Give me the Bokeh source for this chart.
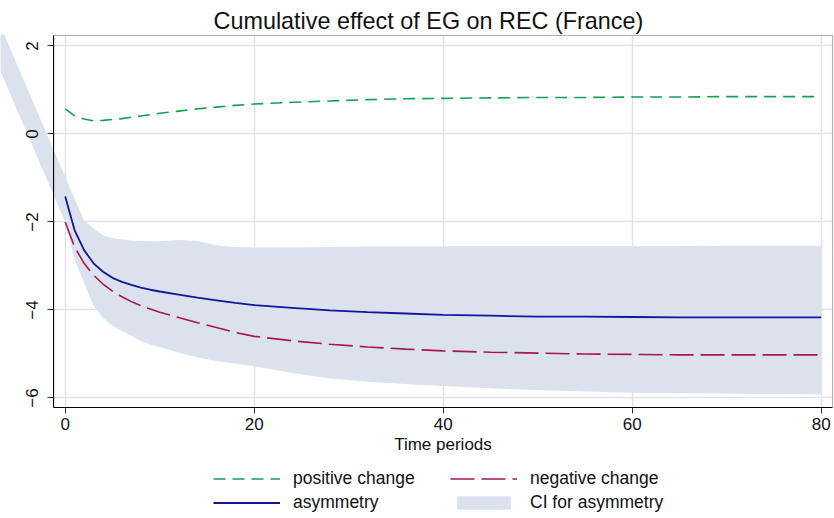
from bokeh.plotting import figure
from bokeh.models import Range1d, BoxAnnotation, Legend, LegendItem, FixedTicker
from bokeh.embed import file_html
from bokeh.resources import INLINE

# ---- data ----
periods = [0, 1, 2, 3, 4, 5, 6, 7, 8, 9, 10, 12, 14, 16, 18, 20, 24, 28, 32, 36,
           40, 45, 50, 55, 60, 65, 70, 75, 80]
positive_change = [0.57, 0.41, 0.34, 0.30, 0.31, 0.33, 0.35, 0.38, 0.41, 0.44, 0.47,
                   0.52, 0.57, 0.61, 0.65, 0.68, 0.72, 0.75, 0.78, 0.80,
                   0.81, 0.82, 0.83, 0.83, 0.84, 0.84, 0.85, 0.85, 0.85]
negative_change = [-2.00, -2.57, -2.94, -3.21, -3.41, -3.57, -3.70, -3.81, -3.90, -3.98, -4.05,
                   -4.17, -4.29, -4.40, -4.51, -4.60, -4.70, -4.78, -4.84, -4.89,
                   -4.93, -4.96, -4.98, -5.00, -5.01, -5.02, -5.02, -5.02, -5.02]
asymmetry = [-1.42, -2.19, -2.64, -2.94, -3.13, -3.27, -3.36, -3.43, -3.49, -3.54, -3.58,
             -3.65, -3.72, -3.78, -3.84, -3.89, -3.95, -4.01, -4.05, -4.08,
             -4.11, -4.13, -4.15, -4.15, -4.16, -4.17, -4.17, -4.17, -4.17]
ci_periods = [-8, 0, 1, 2, 3, 4, 5, 6, 7, 8, 9, 10, 12, 14, 16, 18, 20, 24, 28, 32, 36,
              40, 45, 50, 55, 60, 65, 70, 75, 80]
ci_upper = [3.03, -0.97, -1.47, -1.96, -2.15, -2.30, -2.37, -2.40, -2.42, -2.43, -2.44, -2.44,
            -2.41, -2.43, -2.53, -2.57, -2.58, -2.58, -2.57, -2.56, -2.56,
            -2.55, -2.55, -2.55, -2.55, -2.55, -2.55, -2.54, -2.54, -2.54]
ci_lower = [2.00, -2.00, -2.85, -3.39, -3.90, -4.18, -4.36, -4.48, -4.58, -4.70, -4.79, -4.84,
            -4.97, -5.08, -5.16, -5.22, -5.28, -5.43, -5.56, -5.63, -5.68,
            -5.73, -5.78, -5.82, -5.85, -5.88, -5.89, -5.90, -5.91, -5.92]
x_ticks = [0, 20, 40, 60, 80]
y_ticks = [-6, -4, -2, 0, 2]

# plot-region box (data units)
XMIN, XMAX, YMIN, YMAX = -1.206, 81.2, -6.216, 2.239

FONT = "Liberation Sans"

p = figure(width=834, height=518, output_backend="svg", toolbar_location=None,
           x_range=Range1d(-6.847, 81.407), y_range=Range1d(-8.739, 2.261),
           min_border_left=0, min_border_right=0, min_border_top=34, min_border_bottom=0,
           title="Cumulative effect of EG on REC (France)")
p.outline_line_color = None
p.background_fill_color = "white"
p.border_fill_color = "white"

p.title.text_font = FONT
p.title.text_font_size = "23.4px"
p.title.text_font_style = "normal"
p.title.text_color = "#111111"
p.title.align = "left"
p.title.offset = 213
p.title.standoff = 2

band = p.varea(x=ci_periods, y1=ci_lower, y2=ci_upper, fill_color="#dae2ed")
pos = p.line(periods, positive_change, line_color="#14a050", line_width=1.6, line_dash="12 7")
neg = p.line(periods, negative_change, line_color="#aa1450", line_width=1.6, line_dash="24 7")
asy = p.line(periods, asymmetry, line_color="#14149c", line_width=1.8)

p.add_layout(BoxAnnotation(left=XMIN, right=XMAX, bottom=YMIN, top=YMAX,
                           fill_color=None, line_color="black", line_width=1.2))

xa = p.xaxis[0]
xa.fixed_location = YMIN
xa.bounds = (XMIN, XMAX)
xa.ticker = FixedTicker(ticks=x_ticks)
xa.major_tick_out = 6
xa.major_tick_in = 0
xa.minor_tick_out = 0
xa.minor_tick_in = 0
xa.axis_line_color = "black"
xa.major_tick_line_color = "#333333"
xa.major_label_text_font = FONT
xa.major_label_text_font_size = "17px"
xa.major_label_text_color = "#111111"
xa.major_label_standoff = 5
xa.axis_label = "Time periods"
xa.axis_label_text_font = FONT
xa.axis_label_text_font_size = "17px"
xa.axis_label_text_font_style = "normal"
xa.axis_label_text_color = "#111111"
xa.axis_label_standoff = 1

ya = p.yaxis[0]
ya.fixed_location = XMIN
ya.bounds = (YMIN, YMAX)
ya.ticker = FixedTicker(ticks=y_ticks)
ya.major_tick_out = 6
ya.major_tick_in = 0
ya.minor_tick_out = 0
ya.minor_tick_in = 0
ya.axis_line_color = "black"
ya.major_tick_line_color = "#333333"
ya.major_label_text_font = FONT
ya.major_label_text_font_size = "17px"
ya.major_label_text_color = "#111111"
ya.major_label_orientation = "vertical"
ya.major_label_standoff = 10

p.xgrid.cross_bounds = (YMIN, YMAX)
p.ygrid.cross_bounds = (XMIN, XMAX)
for g in (p.xgrid[0], p.ygrid[0]):
    g.grid_line_color = "#e3e3e3"
    g.grid_line_width = 1.5

legend = Legend(items=[
    LegendItem(label="positive change", renderers=[pos]),
    LegendItem(label="asymmetry", renderers=[asy]),
    LegendItem(label="negative change", renderers=[neg]),
    LegendItem(label="CI for asymmetry", renderers=[band]),
], location=(213, 5.5), orientation="vertical", ncols=2)
legend.label_text_font = FONT
legend.label_text_font_size = "17.5px"
legend.label_text_color = "#111111"
legend.glyph_width = 67
legend.glyph_height = 17
legend.label_height = 17
legend.label_width = 154
legend.label_standoff = 13
legend.spacing = 3
legend.padding = 0
legend.margin = 0
legend.border_line_color = None
legend.background_fill_alpha = 0
p.add_layout(legend)

open("out.html", "w").write(file_html(p, INLINE))
